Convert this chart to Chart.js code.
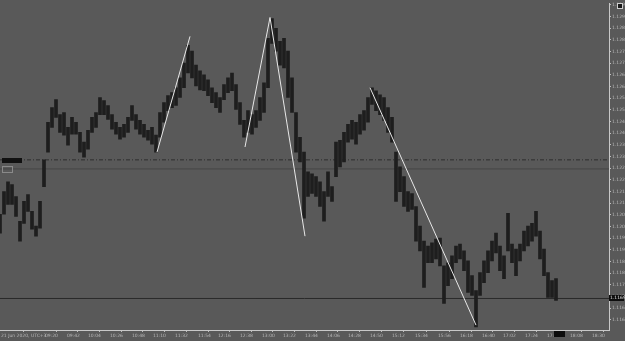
<!DOCTYPE html>
<html>
<head>
<meta charset="utf-8">
<script src="https://cdn.jsdelivr.net/npm/chart.js@4.4.1/dist/chart.umd.min.js"></script>
<style>
  body { margin: 0; background: #595959; }
  #wrap { width: 625px; height: 341px; position: relative; background: #595959; }
</style>
</head>
<body>
<div id="wrap"><canvas id="c"></canvas></div>
<script>
// sampled M1 bars, one every 4 minutes
var barStep = 4;
var barHigh = [
  1.12053, 1.12150, 1.12192, 1.12180, 1.12129, 1.12023, 1.12108, 1.12137, 1.12065, 1.12002,
  1.12108, 1.12286, 1.12447, 1.12510, 1.12544, 1.12480, 1.12489, 1.12425, 1.12468, 1.12447,
  1.12404, 1.12362, 1.12413, 1.12468, 1.12489, 1.12553, 1.12540, 1.12519, 1.12480, 1.12447,
  1.12425, 1.12438, 1.12468, 1.12519, 1.12480, 1.12455, 1.12438, 1.12413, 1.12425, 1.12392,
  1.12489, 1.12531, 1.12561, 1.12574, 1.12595, 1.12637, 1.12701, 1.12777, 1.12752, 1.12692,
  1.12667, 1.12650, 1.12629, 1.12595, 1.12574, 1.12553, 1.12608, 1.12637, 1.12658, 1.12608,
  1.12531, 1.12455, 1.12497, 1.12480, 1.12497, 1.12553, 1.12616, 1.12807, 1.12891, 1.12849,
  1.12794, 1.12807, 1.12752, 1.12637, 1.12489, 1.12383, 1.12319, 1.12235, 1.12226, 1.12214,
  1.12192, 1.12150, 1.12235, 1.12171, 1.12362, 1.12370, 1.12404, 1.12438, 1.12455, 1.12447,
  1.12480, 1.12497, 1.12553, 1.12595, 1.12582, 1.12565, 1.12553, 1.12510, 1.12468, 1.12319,
  1.12256, 1.12214, 1.12150, 1.12142, 1.12086, 1.12002, 1.11938, 1.11917, 1.11930, 1.11947,
  1.11951, 1.11832, 1.11845, 1.11875, 1.11917, 1.11925, 1.11896, 1.11853, 1.11790, 1.11726,
  1.11803, 1.11853, 1.11896, 1.11938, 1.11972, 1.11917, 1.11875, 1.12057, 1.11925, 1.11904,
  1.11925, 1.11981, 1.12002, 1.12014, 1.12065, 1.11981, 1.11904, 1.11803, 1.11769, 1.11777
];
var barLow = [
  1.11972, 1.12053, 1.12095, 1.12095, 1.12044, 1.11938, 1.12014, 1.12065, 1.11989, 1.11959,
  1.11993, 1.12171, 1.12319, 1.12425, 1.12468, 1.12404, 1.12392, 1.12349, 1.12396, 1.12396,
  1.12319, 1.12298, 1.12332, 1.12404, 1.12425, 1.12480, 1.12480, 1.12459, 1.12417, 1.12396,
  1.12375, 1.12383, 1.12404, 1.12455, 1.12417, 1.12396, 1.12383, 1.12370, 1.12353, 1.12319,
  1.12383, 1.12447, 1.12497, 1.12510, 1.12519, 1.12553, 1.12595, 1.12658, 1.12637, 1.12603,
  1.12586, 1.12582, 1.12561, 1.12531, 1.12510, 1.12489, 1.12544, 1.12574, 1.12582, 1.12502,
  1.12438, 1.12383, 1.12404, 1.12396, 1.12425, 1.12455, 1.12489, 1.12595, 1.12785, 1.12752,
  1.12692, 1.12680, 1.12553, 1.12489, 1.12319, 1.12277, 1.12036, 1.12129, 1.12142, 1.12129,
  1.12086, 1.12023, 1.12129, 1.12108, 1.12214, 1.12256, 1.12277, 1.12362, 1.12375, 1.12353,
  1.12396, 1.12413, 1.12447, 1.12523, 1.12497, 1.12480, 1.12455, 1.12404, 1.12362, 1.12108,
  1.12150, 1.12086, 1.12065, 1.12074, 1.11938, 1.11896, 1.11739, 1.11845, 1.11845, 1.11862,
  1.11832, 1.11671, 1.11747, 1.11777, 1.11845, 1.11862, 1.11811, 1.11718, 1.11705, 1.11570,
  1.11705, 1.11760, 1.11803, 1.11853, 1.11887, 1.11811, 1.11777, 1.11896, 1.11845, 1.11790,
  1.11853, 1.11896, 1.11917, 1.11938, 1.11959, 1.11862, 1.11790, 1.11697, 1.11697, 1.11684
];

// zigzag legs (bar number, price)
var leg1X = [157, 190];
var leg1Y = [1.12319, 1.12815];
var leg2X = [245, 270, 305];
var leg2Y = [1.12341, 1.12896, 1.11959];
var leg3X = [370, 476];
var leg3Y = [1.12595, 1.11578];

// horizontal levels
var dashLevel = 1.12286;
var solidLevel = 1.12247;
var bidLevel = 1.11692;

var priceMin = 1.11557;
var priceMax = 1.12955;
var barsMax = 609;

var timeTickPos = [1, 45, 67, 88, 110, 132, 153, 175, 198, 218, 240, 262, 283, 305, 327, 348, 370, 392, 415, 438, 460, 482, 503, 525, 547, 570, 592];
var timeTickLabels = ['21 Jun 2020, UTC+3', '09:20', '09:42', '10:04', '10:26', '10:48', '11:10', '11:32', '11:54', '12:16',
  '12:38', '13:00', '13:22', '13:44', '14:06', '14:28', '14:50', '15:12', '15:34', '15:56', '16:18', '16:40', '17:02',
  '17:24', '17:46', '18:08', '18:30'];

function pts(xs, ys) {
  return xs.map(function (x, i) { return { x: x, y: ys[i] }; });
}
function level(v) {
  return [{ x: 0, y: v }, { x: barsMax, y: v }];
}

var barData = barHigh.map(function (h, i) {
  return { x: i * barStep, y: [barLow[i], h] };
});

var tinyFont = { family: 'DejaVu Sans', size: 4.5 };

var decor = {
  id: 'decor',
  afterDraw: function (chart) {
    var ctx = chart.ctx;
    var y = chart.scales.y;
    var x = chart.scales.x;
    ctx.save();
    // left level labels
    var yd = Math.round(y.getPixelForValue(dashLevel));
    ctx.fillStyle = '#111';
    ctx.fillRect(2, yd - 2, 20, 5);
    var ys = Math.round(y.getPixelForValue(solidLevel));
    ctx.strokeStyle = '#8a8a8a';
    ctx.lineWidth = 1;
    ctx.strokeRect(2.5, ys - 2.5, 10, 6);
    // bid price box on the axis
    var yb = Math.round(y.getPixelForValue(bidLevel));
    ctx.fillStyle = '#0d0d0d';
    ctx.fillRect(x.right, yb - 3, 15, 6);
    ctx.fillStyle = '#e0e0e0';
    ctx.font = '4.5px DejaVu Sans';
    ctx.textBaseline = 'middle';
    ctx.fillText(bidLevel.toFixed(4), x.right + 1, yb);
    // time marker on the bottom axis
    var xm = x.getPixelForValue(barHigh.length * barStep);
    ctx.fillStyle = '#0d0d0d';
    ctx.fillRect(xm - 6, y.bottom + 1, 11, 6);
    // corner icon
    ctx.fillStyle = '#1a1a1a';
    ctx.fillRect(617, 3, 6, 6);
    ctx.strokeStyle = '#cfcfcf';
    ctx.strokeRect(617.5, 3.5, 5, 5);
    ctx.restore();
  }
};

new Chart(document.getElementById('c'), {
  type: 'bar',
  data: {
    datasets: [
      { type: 'line', data: pts(leg1X, leg1Y), borderColor: '#e8e8e8', borderWidth: 1, pointRadius: 0, order: 0 },
      { type: 'line', data: pts(leg2X, leg2Y), borderColor: '#e8e8e8', borderWidth: 1, pointRadius: 0, order: 0 },
      { type: 'line', data: pts(leg3X, leg3Y), borderColor: '#e8e8e8', borderWidth: 1, pointRadius: 0, order: 0 },
      { type: 'bar', data: barData, backgroundColor: '#1e1e1e', borderWidth: 0, barThickness: 3, order: 1 },
      { type: 'line', data: level(dashLevel), borderColor: '#2e2e2e', borderWidth: 1, borderDash: [4, 2, 1, 2], pointRadius: 0, order: 2 },
      { type: 'line', data: level(solidLevel), borderColor: '#444', borderWidth: 1, pointRadius: 0, order: 2 },
      { type: 'line', data: level(bidLevel), borderColor: '#2a2a2a', borderWidth: 1, pointRadius: 0, order: 2 }
    ]
  },
  options: {
    responsive: true,
    maintainAspectRatio: false,
    animation: false,
    layout: { padding: 0 },
    plugins: { legend: { display: false }, tooltip: { enabled: false } },
    scales: {
      x: {
        type: 'linear',
        min: 0,
        max: barsMax,
        offset: false,
        grid: { display: true, drawOnChartArea: false, tickLength: 2, color: '#bdbdbd' },
        border: { color: '#c8c8c8' },
        afterBuildTicks: function (scale) {
          scale.ticks = timeTickPos.map(function (v) { return { value: v }; });
        },
        afterFit: function (scale) { scale.height = 11; },
        ticks: {
          autoSkip: false,
          maxRotation: 0,
          align: 'start',
          padding: 1,
          color: '#b8b8b8',
          font: tinyFont,
          callback: function (v, i) { return timeTickLabels[i]; }
        }
      },
      y: {
        position: 'right',
        min: priceMin,
        max: priceMax,
        grid: { display: true, drawOnChartArea: false, tickLength: 2, color: '#bdbdbd' },
        border: { color: '#c8c8c8' },
        afterFit: function (scale) { scale.width = 16; },
        ticks: {
          stepSize: 0.0005,
          includeBounds: false,
          padding: 1,
          color: '#b8b8b8',
          font: tinyFont,
          callback: function (v) { return Number(v).toFixed(4); }
        }
      }
    }
  },
  plugins: [decor]
});
</script>
</body>
</html>
